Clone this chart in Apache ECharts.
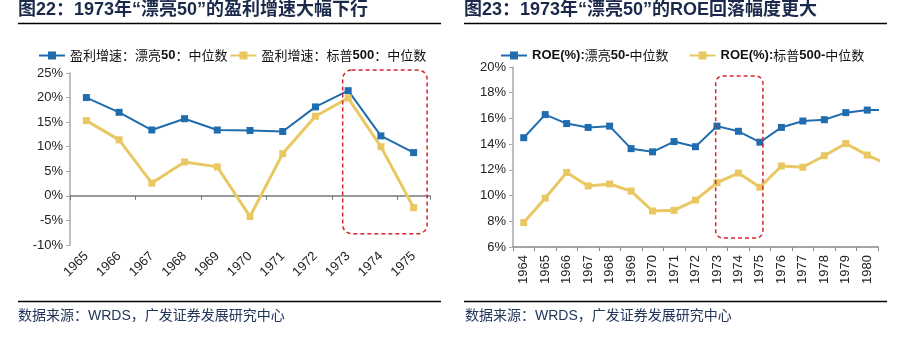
<!DOCTYPE html>
<html><head><meta charset="utf-8">
<script src="https://cdn.jsdelivr.net/npm/echarts@6/dist/echarts.min.js"></script>
<style>html,body{margin:0;padding:0;background:#fff}#c{width:899px;height:340px}</style>
</head><body><div id="c"></div>
<script>
// ---- Left chart data ----
const leftTitle = '图22：1973年“漂亮50”的盈利增速大幅下行';
const leftYears = ['1965','1966','1967','1968','1969','1970','1971','1972','1973','1974','1975'];
const leftSeriesNames = ['盈利增速：漂亮50：中位数', '盈利增速：标普500：中位数'];
const growthNifty50 = [20.0, 17.0, 13.4, 15.7, 13.4, 13.3, 13.1, 18.1, 21.4, 12.2, 8.8];
const growthSP500   = [15.3, 11.4, 2.6, 6.9, 5.9, -4.2, 8.6, 16.2, 19.9, 10.0, -2.4];
const leftYTicks = [-10, -5, 0, 5, 10, 15, 20, 25];

// ---- Right chart data ----
const rightTitle = '图23：1973年“漂亮50”的ROE回落幅度更大';
const rightYears = [1964,1965,1966,1967,1968,1969,1970,1971,1972,1973,1974,1975,1976,1977,1978,1979,1980,1981];
const rightSeriesNames = ['ROE(%):漂亮50-中位数', 'ROE(%):标普500-中位数'];
const roeNifty50 = [14.5, 16.3, 15.6, 15.3, 15.4, 13.65, 13.4, 14.2, 13.8, 15.4, 15.0, 14.15, 15.3, 15.8, 15.9, 16.45, 16.65, 16.65];
const roeSP500   = [7.9, 9.8, 11.8, 10.75, 10.9, 10.35, 8.8, 8.85, 9.65, 11.0, 11.75, 10.65, 12.3, 12.2, 13.1, 14.05, 13.15, 12.4];
const rightYTicks = [6, 8, 10, 12, 14, 16, 18, 20];
const rightShownYears = rightYears.slice(0, 17);

const sourceText = '数据来源：WRDS，广发证券发展研究中心';

const BLUE = '#1f6cae', YELLOW = '#e9c863', RED = '#d8262c';
const LATIN = '"Liberation Sans", Arial, "Noto Sans CJK SC", sans-serif';
const CJK = '"Noto Sans CJK SC", sans-serif';

const chart = echarts.init(document.getElementById('c'), null, {renderer: 'canvas'});

function legendFmt(name) {
  return name.replace(/([A-Za-z0-9()%:\-]+)/g, '{b|$1}');
}
const legendRich = { b: { fontFamily: LATIN, fontWeight: 'bold', fontSize: 13, color: '#111' } };

function lineSeries(name, data, color, width, xi, yi) {
  return {
    name, type: 'line', data, xAxisIndex: xi, yAxisIndex: yi,
    symbol: 'rect', symbolSize: 7, showSymbol: true,
    lineStyle: { color, width }, itemStyle: { color },
    emphasis: { disabled: true }, animation: false, clip: true
  };
}

const halfTicks = [];
for (let i = 0; i <= rightShownYears.length; i++) halfTicks.push(rightShownYears[0] - 0.5 + i);

const option = {
  animation: false,
  grid: [
    { left: 70, top: 73, width: 360, height: 172, containLabel: false },
    { left: 513, top: 67, width: 365, height: 180, containLabel: false }
  ],
  legend: [
    { data: leftSeriesNames, left: 33, top: 44, itemWidth: 26, itemHeight: 10, itemGap: 2,
      formatter: legendFmt,
      textStyle: { fontFamily: CJK, fontSize: 13, color: '#111', rich: legendRich } },
    { data: rightSeriesNames, left: 495, top: 44, itemWidth: 26, itemHeight: 10, itemGap: 20,
      formatter: legendFmt,
      textStyle: { fontFamily: CJK, fontSize: 13, color: '#111', rich: legendRich } }
  ],
  xAxis: [
    { type: 'category', gridIndex: 0, data: leftYears, boundaryGap: true,
      axisLine: { show: false, onZero: false }, axisTick: { show: false },
      axisLabel: { rotate: 45, margin: 9, fontFamily: LATIN, fontSize: 13, color: '#222' } },
    { type: 'category', gridIndex: 0, data: leftYears, position: 'top', boundaryGap: true,
      axisLine: { show: true, onZero: true, lineStyle: { color: '#777', width: 1.5 } },
      axisTick: { show: true, inside: true, length: 4, lineStyle: { color: '#777' } },
      axisLabel: { show: false }, splitLine: { show: false } },
    { type: 'value', gridIndex: 1, min: rightShownYears[0] - 0.5, max: rightShownYears[rightShownYears.length - 1] + 0.5,
      axisLine: { show: true, lineStyle: { color: '#888', width: 1.5 } },
      axisTick: { show: true, length: 4, customValues: halfTicks, lineStyle: { color: '#888' } },
      axisLabel: { rotate: 90, margin: 8, customValues: rightShownYears, fontFamily: LATIN, fontSize: 13, color: '#222',
        formatter: v => String(Math.round(v)) },
      splitLine: { show: false } }
  ],
  yAxis: [
    { type: 'value', gridIndex: 0, min: leftYTicks[0], max: leftYTicks[leftYTicks.length - 1], interval: 5,
      axisLine: { show: true, lineStyle: { color: '#aaa', width: 1.5 } },
      axisTick: { show: true, length: 4, lineStyle: { color: '#aaa' } },
      axisLabel: { formatter: '{value}%', fontFamily: LATIN, fontSize: 13, color: '#222', margin: 7 },
      splitLine: { show: false } },
    { type: 'value', gridIndex: 1, min: rightYTicks[0], max: rightYTicks[rightYTicks.length - 1], interval: 2,
      axisLine: { show: true, lineStyle: { color: '#aaa', width: 1.5 } },
      axisTick: { show: true, length: 4, lineStyle: { color: '#aaa' } },
      axisLabel: { formatter: '{value}%', fontFamily: LATIN, fontSize: 13, color: '#222', margin: 7 },
      splitLine: { show: false } }
  ],
  series: [
    lineSeries(leftSeriesNames[0], growthNifty50, BLUE, 2, 0, 0),
    lineSeries(leftSeriesNames[1], growthSP500, YELLOW, 3, 0, 0),
    lineSeries(rightSeriesNames[0], rightYears.map((y, i) => [y, roeNifty50[i]]), BLUE, 2, 2, 1),
    lineSeries(rightSeriesNames[1], rightYears.map((y, i) => [y, roeSP500[i]]), YELLOW, 3, 2, 1)
  ]
};
chart.setOption(option);

// Annotation boxes placed through the axes' own scales
const lp1 = chart.convertToPixel({ gridIndex: 0 }, ['1973', 25.6]);
const lp2 = chart.convertToPixel({ gridIndex: 0 }, ['1975', -7.7]);
const rp1 = chart.convertToPixel({ xAxisIndex: 2, yAxisIndex: 1 }, [1973 - 0.06, 19.3]);
const rp2 = chart.convertToPixel({ xAxisIndex: 2, yAxisIndex: 1 }, [1975 + 0.14, 6.7]);
const leftBoxX1 = lp1[0] - 5.5, leftBoxX2 = lp2[0] + 13.5;

const titleStyle = { font: 'bold 18px "Liberation Sans", Arial, "Noto Sans CJK SC", sans-serif', fill: '#1b2a4a' };
const srcStyle = { font: '14px "Liberation Sans", Arial, "Noto Sans CJK SC", sans-serif', fill: '#22365a' };

chart.setOption({
  graphic: [
    { type: 'text', left: 18, top: 1, style: Object.assign({ text: leftTitle }, titleStyle) },
    { type: 'text', left: 464, top: 1, style: Object.assign({ text: rightTitle }, titleStyle) },
    { type: 'line', shape: { x1: 18, y1: 23.5, x2: 441, y2: 23.5 }, style: { stroke: '#000', lineWidth: 1.5 } },
    { type: 'line', shape: { x1: 464, y1: 23.5, x2: 887, y2: 23.5 }, style: { stroke: '#000', lineWidth: 1.5 } },
    { type: 'line', shape: { x1: 18, y1: 301.5, x2: 441, y2: 301.5 }, style: { stroke: '#000', lineWidth: 1.5 } },
    { type: 'line', shape: { x1: 464, y1: 301.5, x2: 887, y2: 301.5 }, style: { stroke: '#000', lineWidth: 1.5 } },
    { type: 'text', left: 18, top: 309, style: Object.assign({ text: sourceText }, srcStyle) },
    { type: 'text', left: 465, top: 309, style: Object.assign({ text: sourceText }, srcStyle) },
    { type: 'rect', z: 100, shape: { x: leftBoxX1, y: lp1[1], width: leftBoxX2 - leftBoxX1, height: lp2[1] - lp1[1], r: 9 },
      style: { fill: 'none', stroke: RED, lineWidth: 1.5, lineDash: [4, 3] } },
    { type: 'rect', z: 100, shape: { x: rp1[0], y: rp1[1], width: rp2[0] - rp1[0], height: rp2[1] - rp1[1], r: 7 },
      style: { fill: 'none', stroke: RED, lineWidth: 1.5, lineDash: [4, 3] } }
  ]
});
</script>
</body></html>
